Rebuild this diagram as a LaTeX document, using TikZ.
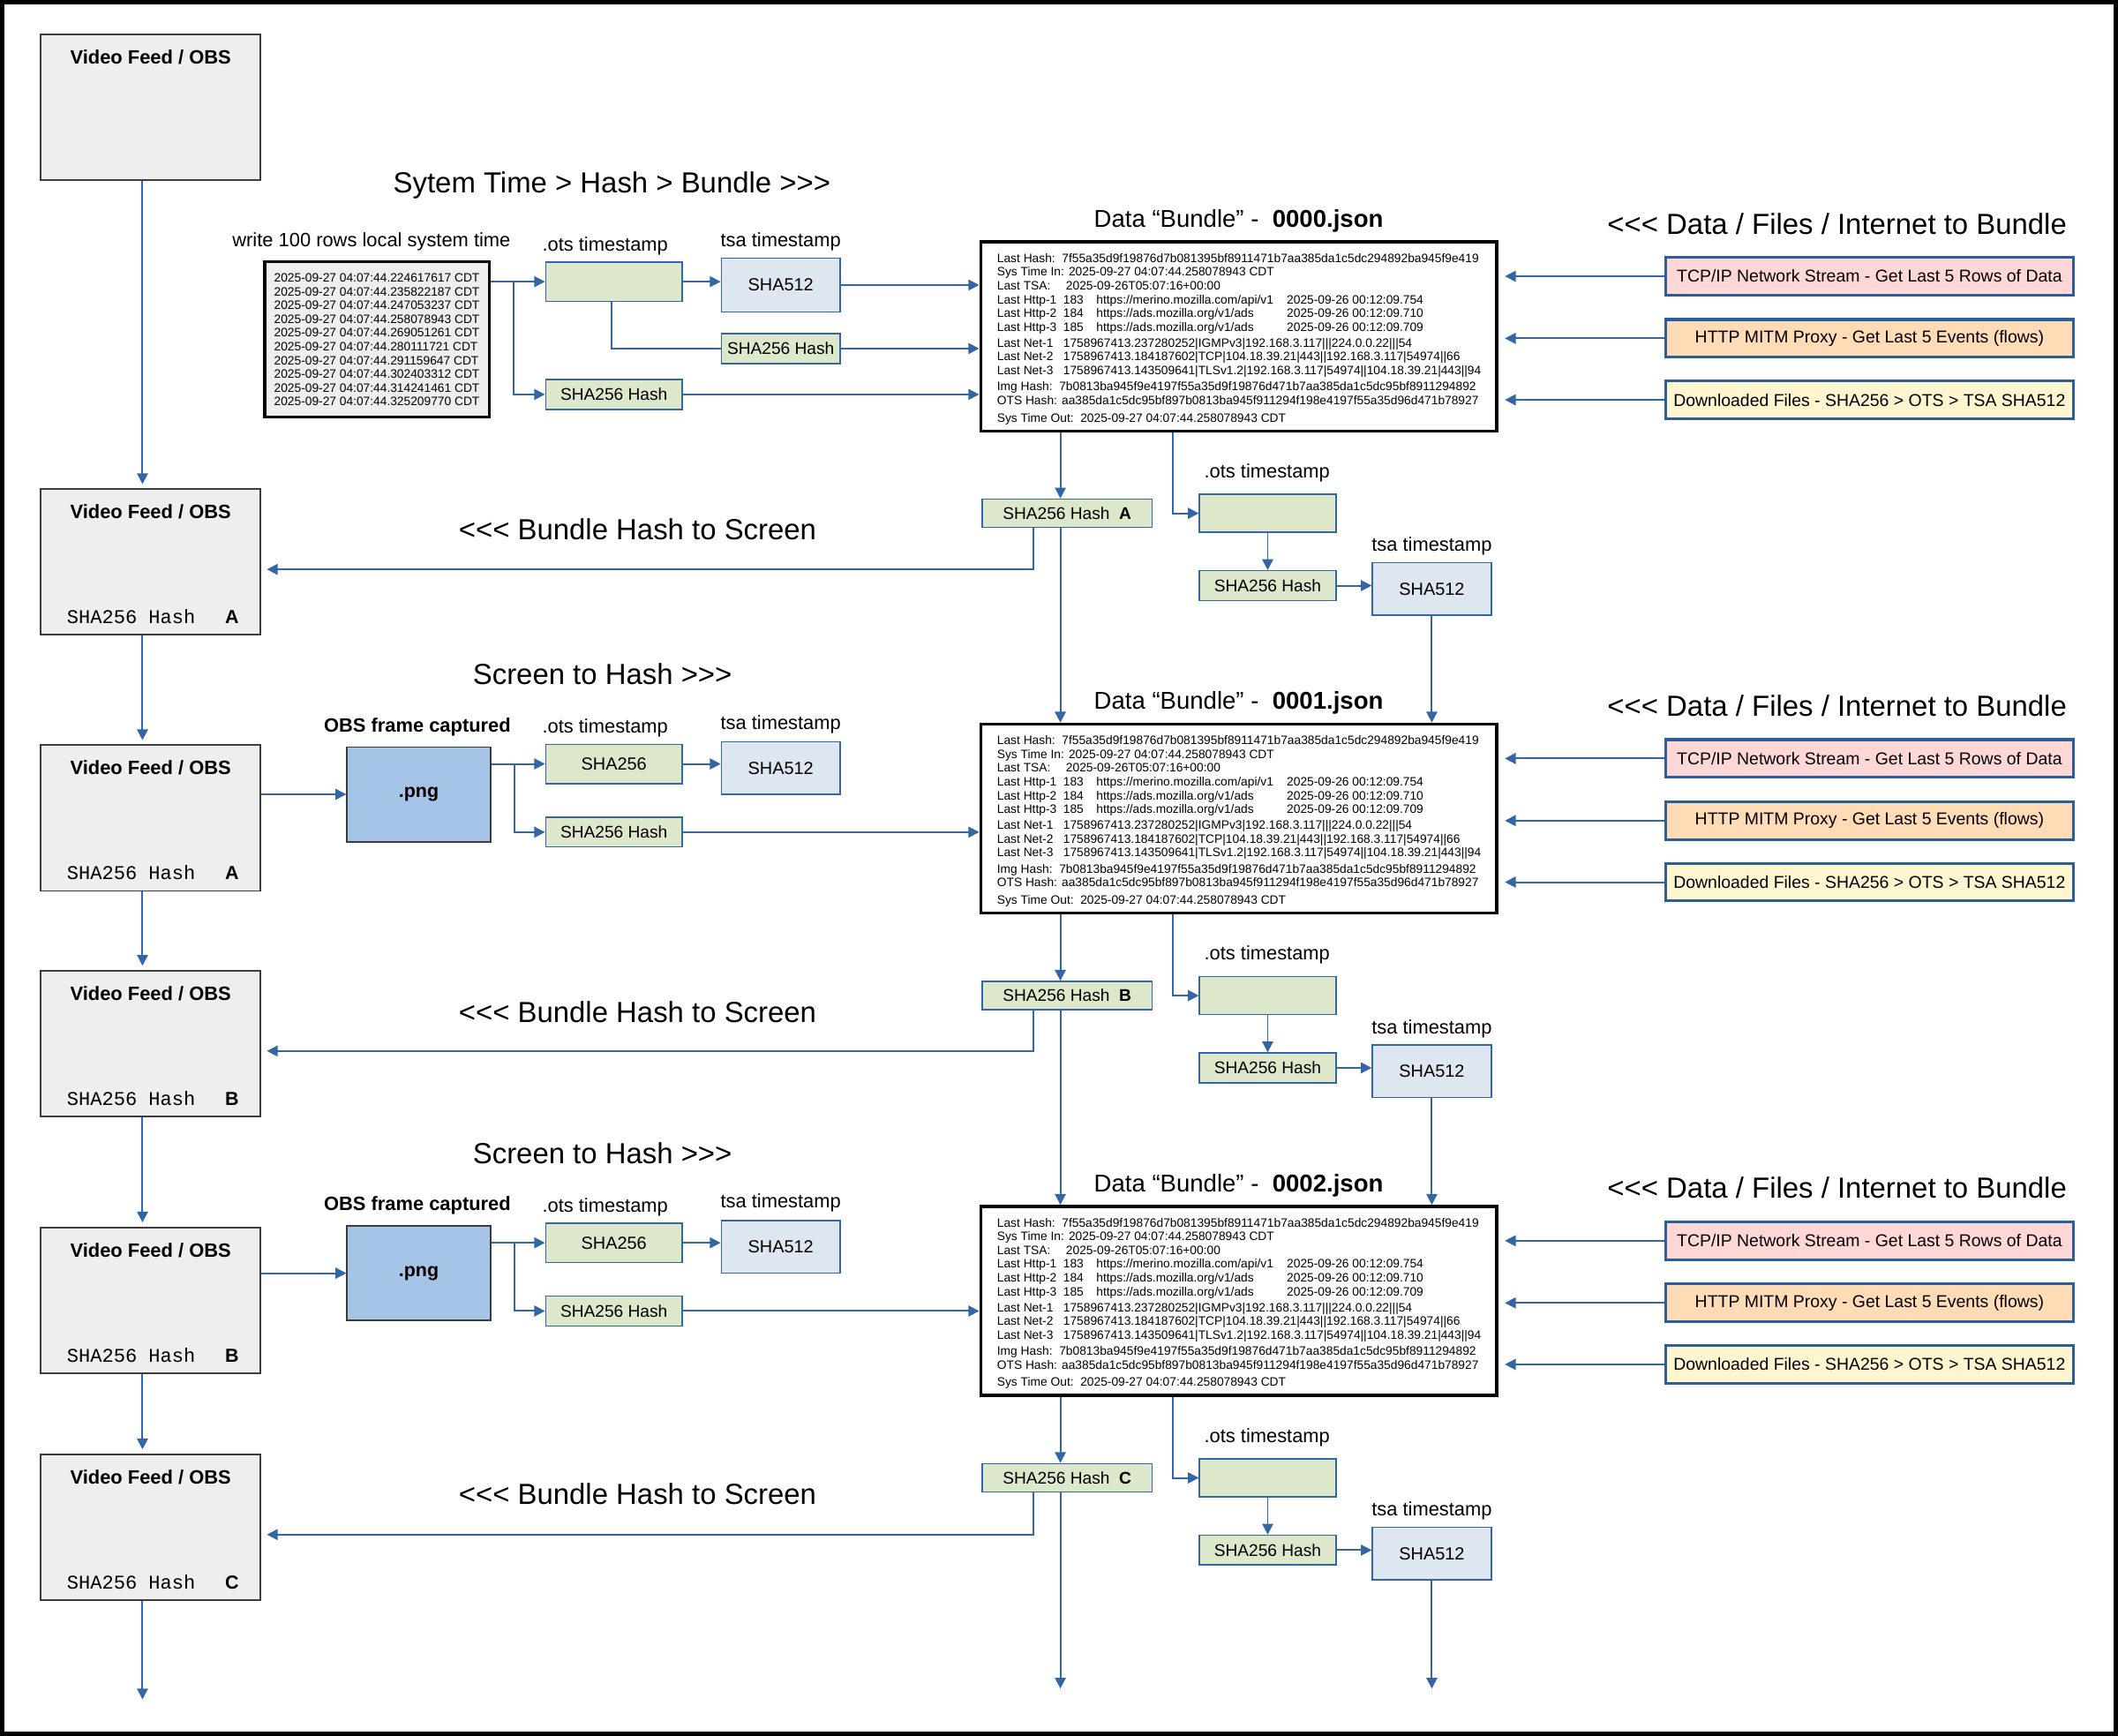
\documentclass[tikz,border=0pt]{standalone}
\usepackage{fontspec}
\setmainfont{Liberation Sans}[Ligatures=TeXOff]
\newfontfamily\monofnt{Liberation Mono}[Ligatures=TeXOff]
\usetikzlibrary{arrows.meta,calc}
\definecolor{vfill}{HTML}{EEEEEE}
\definecolor{vborder}{HTML}{3C3C3C}
\definecolor{gfill}{HTML}{DDE8CB}
\definecolor{tfill}{HTML}{DEE6EF}
\definecolor{cblue}{HTML}{3465A4}
\definecolor{sborder}{HTML}{2A6099}
\definecolor{cpink}{HTML}{FFD7D7}
\definecolor{corange}{HTML}{FFDBB6}
\definecolor{cyellow}{HTML}{FFF5CE}
\definecolor{pngfill}{HTML}{A6C4E5}
\newcommand\fsz[2]{\fontsize{#1}{#2}\selectfont}
\newcommand\bundletext{%
\makebox[48pt][l]{Last Hash:}7f55a35d9f19876d7b081395bf8911471b7aa385da1c5dc294892ba945f9e419\\
Sys Time In: 2025-09-27 04:07:44.258078943 CDT\\
\makebox[51pt][l]{Last TSA:}2025-09-26T05:07:16+00:00\\
\makebox[49pt][l]{Last Http-1}\makebox[24.5pt][l]{183}\makebox[141pt][l]{https://merino.mozilla.com/api/v1}2025-09-26 00:12:09.754\\
\makebox[49pt][l]{Last Http-2}\makebox[24.5pt][l]{184}\makebox[141pt][l]{https://ads.mozilla.org/v1/ads}2025-09-26 00:12:09.710\\
\makebox[49pt][l]{Last Http-3}\makebox[24.5pt][l]{185}\makebox[141pt][l]{https://ads.mozilla.org/v1/ads}2025-09-26 00:12:09.709\\[1.5pt]
\makebox[49pt][l]{Last Net-1}1758967413.237280252|IGMPv3|192.168.3.117|||224.0.0.22|||54\\
\makebox[49pt][l]{Last Net-2}1758967413.184187602|TCP|104.18.39.21|443||192.168.3.117|54974||66\\
\makebox[49pt][l]{Last Net-3}1758967413.143509641|TLSv1.2|192.168.3.117|54974||104.18.39.21|443||94\\[1.8pt]
\makebox[46pt][l]{Img Hash:}7b0813ba945f9e4197f55a35d9f19876d471b7aa385da1c5dc95bf8911294892\\
OTS Hash: aa385da1c5dc95bf897b0813ba945f911294f198e4197f55a35d96d471b78927\\[2.6pt]
Sys Time Out:\ \ 2025-09-27 04:07:44.258078943 CDT}
\tikzset{
  vid/.style={draw=vborder, fill=vfill, line width=1.2pt, minimum width=163pt, minimum height=108pt, inner sep=0pt},
  grn/.style={draw=cblue, fill=gfill, line width=1pt, minimum width=101pt, minimum height=22pt, inner sep=0pt, font=\fsz{12.5}{15}},
  tsabox/.style={draw=cblue, fill=tfill, line width=1pt, minimum width=88pt, minimum height=39pt, inner sep=0pt, font=\fsz{13}{15}},
  bund/.style={draw=black, line width=2.2pt, fill=white, minimum width=382pt, minimum height=140pt, inner sep=0pt},
  srcbox/.style={draw=sborder, line width=2pt, minimum width=302pt, minimum height=28pt, inner sep=0pt, font=\fsz{12.7}{15}},
  pngbox/.style={draw=vborder, fill=pngfill, line width=1.2pt, minimum width=106pt, minimum height=70pt, inner sep=0pt, font=\fsz{14}{17}\bfseries},
  arr/.style={draw=cblue, line width=1.3pt, -{Triangle[length=8pt,width=8pt]}},
  ln/.style={draw=cblue, line width=1.3pt},
  bigtxt/.style={font=\fsz{21.5}{25}, inner sep=0pt},
  lbl/.style={font=\fsz{14.3}{17}, inner sep=0pt},
  vtitle/.style={font=\fsz{14.3}{17}\bfseries, inner sep=0pt},
  vhash/.style={anchor=west, inner sep=0pt},
}
\begin{document}
\begin{tikzpicture}[x=1pt,y=-1pt]
\useasboundingbox (0,0) rectangle (1568,1285);
\draw[line width=3pt] (1.5,1.5) rectangle (1566.5,1283.5);

% video feed boxes
\foreach \n/\cy in {1/79.5,2/416,3/605.5,4/772.5,5/962.5,6/1130.5}{
  \node[vid] (v\n) at (111.5,\cy) {};
  \node[vtitle] (vt\n) at (111.5,\cy-37) {Video Feed / OBS};
}
\foreach \n/\L in {2/A,3/A,4/B,5/B,6/C}{
  \node[vhash] (vh\n) at ($(v\n.south west)+(20,-14)$) {\makebox[117pt][l]{\monofnt\fsz{14.4}{17}SHA256 Hash}{\fsz{14}{17}\bfseries \L}};
}
\foreach \a/\b in {1/2,2/3,3/4,4/5,5/6}{
  \draw[arr, shorten >=3pt] ($(v\a.south)+(-6,0)$) -- ($(v\b.north)+(-6,0)$);
}
\coordinate (vend) at (105.5,1258);
\draw[arr] ($(v6.south)+(-6,0)$) -- (vend);

% top row: system time
\node[bigtxt] (t0) at (453,137) {Sytem Time > Hash > Bundle >>>};
\node[lbl] (wl) at (275,179) {write 100 rows local system time};
\node[draw=black, line width=2pt, fill=vfill, minimum width=166pt, minimum height=115pt, inner sep=0pt, align=left, font=\fsz{9}{10.2}] (ts) at (279,251.5) {%
2025-09-27 04:07:44.224617617 CDT\\
2025-09-27 04:07:44.235822187 CDT\\
2025-09-27 04:07:44.247053237 CDT\\
2025-09-27 04:07:44.258078943 CDT\\
2025-09-27 04:07:44.269051261 CDT\\
2025-09-27 04:07:44.280111721 CDT\\
2025-09-27 04:07:44.291159647 CDT\\
2025-09-27 04:07:44.302403312 CDT\\
2025-09-27 04:07:44.314241461 CDT\\
2025-09-27 04:07:44.325209770 CDT};
\node[lbl] (ol0) at (448,182) {.ots timestamp};
\node[grn, minimum height=29pt] (o0) at (454.5,208.5) {};
\node[lbl] (tl0) at (578,179) {tsa timestamp};
\node[tsabox, minimum height=40pt] (s0) at (578,211) {SHA512};
\node[grn, minimum width=88pt] (h0s) at (578,258) {SHA256 Hash};
\node[grn] (h0) at (454.5,292) {SHA256 Hash};
\coordinate (j0) at (380,208.5);
\draw[arr] (ts.east |- o0.west) -- (o0.west);
\draw[arr] (j0) |- (h0.west);
\draw[arr] (o0.east) -- (o0.east -| s0.west);
\draw[ln] ($(o0.south)+(-1.5,0)$) |- (h0s.west);

% png rows
\foreach \r/\cy/\v in {1/588/3,2/942.5/5}{
  \node[bigtxt] (sh\r) at (446,\cy-89) {Screen to Hash >>>};
  \node[vtitle] (oc\r) at (309,\cy-50) {OBS frame captured};
  \node[pngbox] (png\r) at (310,\cy) {.png};
  \node[lbl] (ol\r) at (448,\cy-49) {.ots timestamp};
  \node[grn, minimum height=29pt, font=\fsz{13}{15}] (o\r) at (454.5,\cy-22.5) {SHA256};
  \node[lbl] (tl\r) at (578,\cy-52) {tsa timestamp};
  \node[tsabox] (s\r) at (578,\cy-19.5) {SHA512};
  \node[grn] (h\r) at (454.5,\cy+28) {SHA256 Hash};
  \coordinate (j\r) at ($(png\r.east |- o\r.west)+(17,0)$);
  \draw[arr] (v\v.east |- png\r.west) -- (png\r.west);
  \draw[arr] (png\r.east |- o\r.west) -- (o\r.west);
  \draw[arr] (j\r) |- (h\r.west);
  \draw[arr] (o\r.east) -- (o\r.east -| s\r.west);
}

% bundles and their surroundings
\foreach \i/\by/\L/\V in {0/249/A/2,1/606/B/4,2/963/C/6}{
  \node[bund] (b\i) at (917,\by) {};
  \node[anchor=north west, inner sep=0pt, align=left, font=\fsz{9}{10.2}] (bt\i) at (738,\by-61.5) {\bundletext};
  \node[font=\fsz{18}{21}, inner sep=0pt] (bl\i) at (917,\by-85.5) {Data “Bundle” -\ \ \textbf{000\i.json}};
  \node[bigtxt] (rt\i) at (1360,\by-83.5) {<<< Data / Files / Internet to Bundle};
  \node[srcbox, fill=cpink] (tcp\i) at (1384,\by-44.5) {TCP/IP Network Stream - Get Last 5 Rows of Data};
  \node[srcbox, fill=corange] (http\i) at (1384,\by+1.5) {HTTP MITM Proxy - Get Last 5 Events (flows)};
  \node[srcbox, fill=cyellow] (dl\i) at (1384,\by+47) {Downloaded Files - SHA256 > OTS > TSA SHA512};
  \draw[arr, shorten >=5pt] (tcp\i.west) -- (tcp\i.west -| b\i.east);
  \draw[arr, shorten >=5pt] (http\i.west) -- (http\i.west -| b\i.east);
  \draw[arr, shorten >=5pt] (dl\i.west) -- (dl\i.west -| b\i.east);
  \draw[arr] (h\i.east) -- (h\i.east -| b\i.west);
  % hash to screen
  \node[grn, minimum width=126pt, minimum height=21pt] (hs\i) at (790,\by+131) {SHA256 Hash\ \ \textbf{\L}};
  \node[bigtxt] (bs\i) at (472,\by+143) {<<< Bundle Hash to Screen};
  \coordinate (hn\i) at ($(hs\i.north)+(-5,0)$);
  \coordinate (hd\i) at ($(hs\i.south)+(-5,0)$);
  \coordinate (hl\i) at ($(hs\i.south)+(-25,0)$);
  \coordinate (ve\i) at ($(v\V.east)+(0,5.5)$);
  \draw[arr] (hn\i |- b\i.south) -- (hn\i);
  \draw[arr, shorten >=4pt] (hl\i) |- (ve\i);
  % ots / tsa chain
  \node[lbl] (oql\i) at (938,\by+101) {.ots timestamp};
  \node[grn, minimum height=28pt] (oq\i) at (938.5,\by+131) {};
  \node[grn] (hq\i) at (938.5,\by+184.5) {SHA256 Hash};
  \node[lbl] (tql\i) at (1060,\by+155.5) {tsa timestamp};
  \node[tsabox] (sq\i) at (1060,\by+187) {SHA512};
  \coordinate (bo\i) at ($(b\i.south)+(-49,0)$);
  \draw[arr] (bo\i) |- (oq\i.west);
  \draw[arr] (oq\i.south) -- (hq\i.north);
  \draw[arr] (hq\i.east) -- (hq\i.east -| sq\i.west);
}
% top-row connectors into bundle 0
\draw[arr] (s0.east) -- (s0.east -| b0.west);
\draw[arr] (h0s.east) -- (h0s.east -| b0.west);

% vertical links to next bundle
\draw[arr] (hd0) -- (hd0 |- b1.north);
\draw[arr] (sq0.south) -- (sq0.south |- b1.north);
\draw[arr] (hd1) -- (hd1 |- b2.north);
\draw[arr] (sq1.south) -- (sq1.south |- b2.north);
\coordinate (endh) at (785,1250);
\coordinate (ends) at (1060,1250);
\draw[arr] (hd2) -- (endh);
\draw[arr] (sq2.south) -- (ends);
\end{tikzpicture}
\end{document}
